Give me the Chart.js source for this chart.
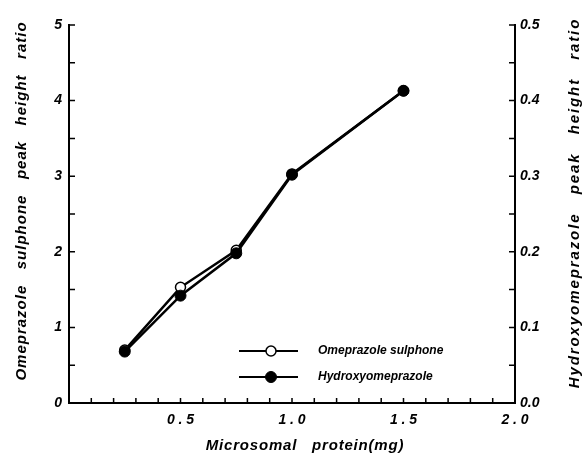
<!DOCTYPE html>
<html>
<head>
<meta charset="utf-8">
<script src="https://cdn.jsdelivr.net/npm/chart.js@4"></script>
<style>
  html, body { margin: 0; padding: 0; background: #fff; }
  #wrap { width: 588px; height: 453px; }
</style>
</head>
<body>
<div id="wrap"><canvas id="chart" width="588" height="453"></canvas></div>
<script>
const protein = [0.25, 0.5, 0.75, 1.0, 1.5];
const sulphone = [0.70, 1.53, 2.02, 3.03, 4.13];
const hydroxy = [0.068, 0.142, 0.198, 0.302, 0.413];
const xTitle = 'Microsomal   protein(mg)';
const leftTitle = 'Omeprazole   sulphone   peak   height   ratio';
const rightTitle = 'Hydroxyomeprazole   peak   height   ratio';

const FONT = '"Liberation Sans", Arial, sans-serif';
const TICK_FONT = { family: FONT, size: 14, style: 'italic', weight: 'bold' };

const toPoints = (xs, ys) => xs.map((x, i) => ({ x, y: ys[i] }));

const drawText = (ctx, text, x, y, rot, spacing) => {
  ctx.save();
  ctx.font = 'italic bold 15px ' + FONT;
  ctx.letterSpacing = spacing + 'px';
  ctx.fillStyle = '#000';
  ctx.textAlign = 'center';
  ctx.textBaseline = 'middle';
  ctx.translate(x, y);
  ctx.rotate(rot);
  ctx.fillText(text, 0, 0);
  ctx.restore();
};

// tick marks pointing into the plot, axis titles and the legend
const extras = {
  id: 'extras',
  afterDraw(chart) {
    const ctx = chart.ctx;
    const { x, y, y1 } = chart.scales;
    ctx.save();
    ctx.strokeStyle = '#000';
    ctx.lineWidth = 1.5;
    ctx.beginPath();
    x.ticks.forEach(t => {
      const px = x.getPixelForValue(t.value);
      ctx.moveTo(px, x.top);
      ctx.lineTo(px, x.top - 5);
    });
    y.ticks.forEach(t => {
      const py = y.getPixelForValue(t.value);
      ctx.moveTo(y.right, py);
      ctx.lineTo(y.right + 6, py);
    });
    y1.ticks.forEach(t => {
      const py = y1.getPixelForValue(t.value);
      ctx.moveTo(y1.left, py);
      ctx.lineTo(y1.left - 6, py);
    });
    ctx.stroke();
    ctx.restore();

    drawText(ctx, leftTitle, 22, 201, -Math.PI / 2, 1);
    drawText(ctx, rightTitle, 575, 203, -Math.PI / 2, 1.9);
    drawText(ctx, xTitle, 305, 446, 0, 0.8);

    // legend
    const area = chart.chartArea;
    ctx.save();
    ctx.font = 'italic bold 12px ' + FONT;
    ctx.textBaseline = 'middle';
    ctx.textAlign = 'left';
    chart.data.datasets.forEach((ds, i) => {
      const ly = area.bottom - 52 + i * 26;
      const lx = area.left + 170;
      ctx.strokeStyle = '#000';
      ctx.lineWidth = 2;
      ctx.beginPath();
      ctx.moveTo(lx, ly);
      ctx.lineTo(lx + 59, ly);
      ctx.stroke();
      ctx.beginPath();
      ctx.arc(lx + 32, ly, ds.pointRadius, 0, Math.PI * 2);
      ctx.fillStyle = ds.pointBackgroundColor;
      ctx.fill();
      ctx.lineWidth = ds.pointBorderWidth;
      ctx.stroke();
      ctx.fillStyle = '#000';
      ctx.fillText(ds.label, lx + 79, ly);
    });
    ctx.restore();
  }
};

new Chart(document.getElementById('chart').getContext('2d'), {
  type: 'line',
  data: {
    datasets: [{
      label: 'Omeprazole sulphone',
      data: toPoints(protein, sulphone),
      yAxisID: 'y',
      borderColor: '#000',
      borderWidth: 2.5,
      pointRadius: 5,
      pointBackgroundColor: '#fff',
      pointBorderColor: '#000',
      pointBorderWidth: 1.5,
      order: 2
    }, {
      label: 'Hydroxyomeprazole',
      data: toPoints(protein, hydroxy),
      yAxisID: 'y1',
      borderColor: '#000',
      borderWidth: 2.5,
      pointRadius: 5.5,
      pointBackgroundColor: '#000',
      pointBorderColor: '#000',
      pointBorderWidth: 1,
      order: 1
    }]
  },
  options: {
    responsive: false,
    animation: false,
    layout: { padding: { top: 25, left: 0, right: 0, bottom: 0 } },
    plugins: {
      legend: { display: false },
      tooltip: { enabled: false }
    },
    scales: {
      x: {
        type: 'linear',
        min: 0,
        max: 2,
        afterFit: s => { s.height = 50; },
        border: { color: '#000', width: 2 },
        grid: { display: false, drawTicks: false },
        ticks: {
          stepSize: 0.1,
          autoSkip: false,
          maxRotation: 0,
          padding: 9,
          color: '#000',
          font: TICK_FONT,
          callback: v => {
            const k = Math.round(v * 10);
            return (k > 0 && k % 5 === 0) ? (k / 10).toFixed(1).split('').join(' ') : '';
          }
        }
      },
      y: {
        position: 'left',
        min: 0,
        max: 5,
        afterFit: s => { s.width = 69; },
        border: { color: '#000', width: 2 },
        grid: { display: false, drawTicks: false },
        ticks: {
          stepSize: 0.5,
          autoSkip: false,
          padding: 7,
          color: '#000',
          font: TICK_FONT,
          callback: v => Number.isInteger(v) ? String(v) : ''
        }
      },
      y1: {
        position: 'right',
        min: 0,
        max: 0.5,
        afterFit: s => { s.width = 73; },
        border: { color: '#000', width: 2 },
        grid: { display: false, drawTicks: false },
        ticks: {
          stepSize: 0.05,
          autoSkip: false,
          padding: 5,
          color: '#000',
          font: TICK_FONT,
          callback: v => {
            const k = Math.round(v * 100);
            return k % 10 === 0 ? (k / 100).toFixed(1) : '';
          }
        }
      }
    }
  },
  plugins: [extras]
});
</script>
</body>
</html>
